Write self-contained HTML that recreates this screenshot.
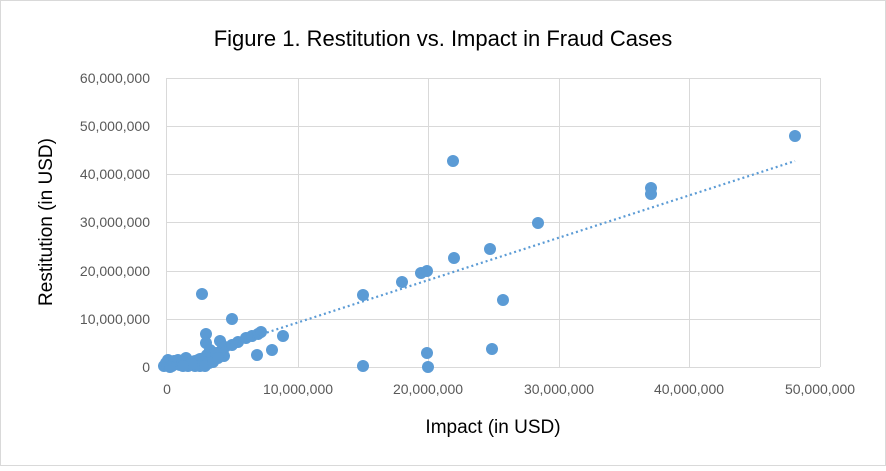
<!DOCTYPE html>
<html><head><style>
body{margin:0;background:#fff}
</style></head><body>
<svg width="886" height="466" viewBox="0 0 886 466" xmlns="http://www.w3.org/2000/svg" font-family="Liberation Sans, sans-serif">
<rect x="0.5" y="0.5" width="885" height="465" fill="#fff" stroke="#d9d9d9"/>
<text x="443" y="46" text-anchor="middle" font-size="22" fill="#000">Figure 1. Restitution vs. Impact in Fraud Cases</text>
<g stroke="#d9d9d9" stroke-width="1">
<line x1="167" y1="78.5" x2="820" y2="78.5"/><line x1="167" y1="126.5" x2="820" y2="126.5"/><line x1="167" y1="174.5" x2="820" y2="174.5"/><line x1="167" y1="222.5" x2="820" y2="222.5"/><line x1="167" y1="271.5" x2="820" y2="271.5"/><line x1="167" y1="319.5" x2="820" y2="319.5"/>
<line x1="298.5" y1="78" x2="298.5" y2="367"/><line x1="428.5" y1="78" x2="428.5" y2="367"/><line x1="559.5" y1="78" x2="559.5" y2="367"/><line x1="689.5" y1="78" x2="689.5" y2="367"/><line x1="820.5" y1="78" x2="820.5" y2="367"/>
<line x1="167" y1="367.5" x2="820" y2="367.5"/><line x1="166.5" y1="78" x2="166.5" y2="367"/>
</g>
<g font-size="14" fill="#595959" text-anchor="end">
<text x="150" y="83">60,000,000</text><text x="150" y="131">50,000,000</text><text x="150" y="179">40,000,000</text><text x="150" y="227">30,000,000</text><text x="150" y="276">20,000,000</text><text x="150" y="324">10,000,000</text><text x="150" y="372">0</text>
</g>
<g font-size="14" fill="#595959" text-anchor="middle">
<text x="167" y="394">0</text><text x="298" y="394">10,000,000</text><text x="428" y="394">20,000,000</text><text x="559" y="394">30,000,000</text><text x="689" y="394">40,000,000</text><text x="820" y="394">50,000,000</text>
</g>
<text x="493" y="433" text-anchor="middle" font-size="19" fill="#000">Impact (in USD)</text>
<text transform="translate(52,222) rotate(-90)" text-anchor="middle" font-size="19" fill="#000">Restitution (in USD)</text>
<g fill="#5b9bd5">
<circle cx="202" cy="294" r="6"/><circle cx="232" cy="319" r="6"/><circle cx="206" cy="334" r="6"/><circle cx="206" cy="343" r="6"/><circle cx="210" cy="350" r="6"/><circle cx="207" cy="355" r="6"/><circle cx="220" cy="341" r="6"/><circle cx="222" cy="350" r="6"/><circle cx="224" cy="356" r="6"/><circle cx="238" cy="342" r="6"/><circle cx="246" cy="338" r="6"/><circle cx="252" cy="336" r="6"/><circle cx="258" cy="334" r="6"/><circle cx="261" cy="332" r="6"/><circle cx="257" cy="355" r="6"/><circle cx="272" cy="350" r="6"/><circle cx="283" cy="336" r="6"/><circle cx="225" cy="347" r="6"/><circle cx="232" cy="345" r="6"/>
<circle cx="170" cy="364" r="6"/><circle cx="172" cy="366" r="6"/><circle cx="176" cy="364" r="6"/><circle cx="180" cy="365" r="6"/><circle cx="185" cy="363" r="6"/><circle cx="190" cy="362" r="6"/><circle cx="195" cy="361" r="6"/><circle cx="198" cy="365" r="6"/><circle cx="200" cy="359" r="6"/><circle cx="168" cy="360" r="6"/><circle cx="178" cy="360" r="6"/><circle cx="188" cy="366" r="6"/><circle cx="195" cy="366" r="6"/><circle cx="203" cy="362" r="6"/><circle cx="212" cy="357" r="6"/><circle cx="216" cy="353" r="6"/><circle cx="186" cy="358" r="6"/><circle cx="200" cy="366" r="6"/><circle cx="209" cy="363" r="6"/>
<circle cx="164" cy="366" r="6"/><circle cx="166" cy="363" r="6"/><circle cx="174" cy="361" r="6"/><circle cx="182" cy="362" r="6"/><circle cx="192" cy="364" r="6"/><circle cx="205" cy="366" r="6"/><circle cx="213" cy="362" r="6"/><circle cx="218" cy="358" r="6"/><circle cx="183" cy="366" r="6"/><circle cx="170" cy="367" r="6"/>
<circle cx="363" cy="295" r="6"/><circle cx="363" cy="366" r="6"/><circle cx="402" cy="282" r="6"/><circle cx="421" cy="273" r="6"/><circle cx="427" cy="271" r="6"/><circle cx="427" cy="353" r="6"/><circle cx="428" cy="367" r="6"/><circle cx="453" cy="161" r="6"/><circle cx="454" cy="258" r="6"/><circle cx="490" cy="249" r="6"/><circle cx="492" cy="349" r="6"/><circle cx="503" cy="300" r="6"/><circle cx="538" cy="223" r="6"/><circle cx="651" cy="188" r="6"/><circle cx="651" cy="194" r="6"/><circle cx="795" cy="136" r="6"/>
</g>
<line x1="167" y1="365" x2="795" y2="161" stroke="#5b9bd5" stroke-width="2.2" stroke-dasharray="2,3"/>
</svg>
</body></html>
